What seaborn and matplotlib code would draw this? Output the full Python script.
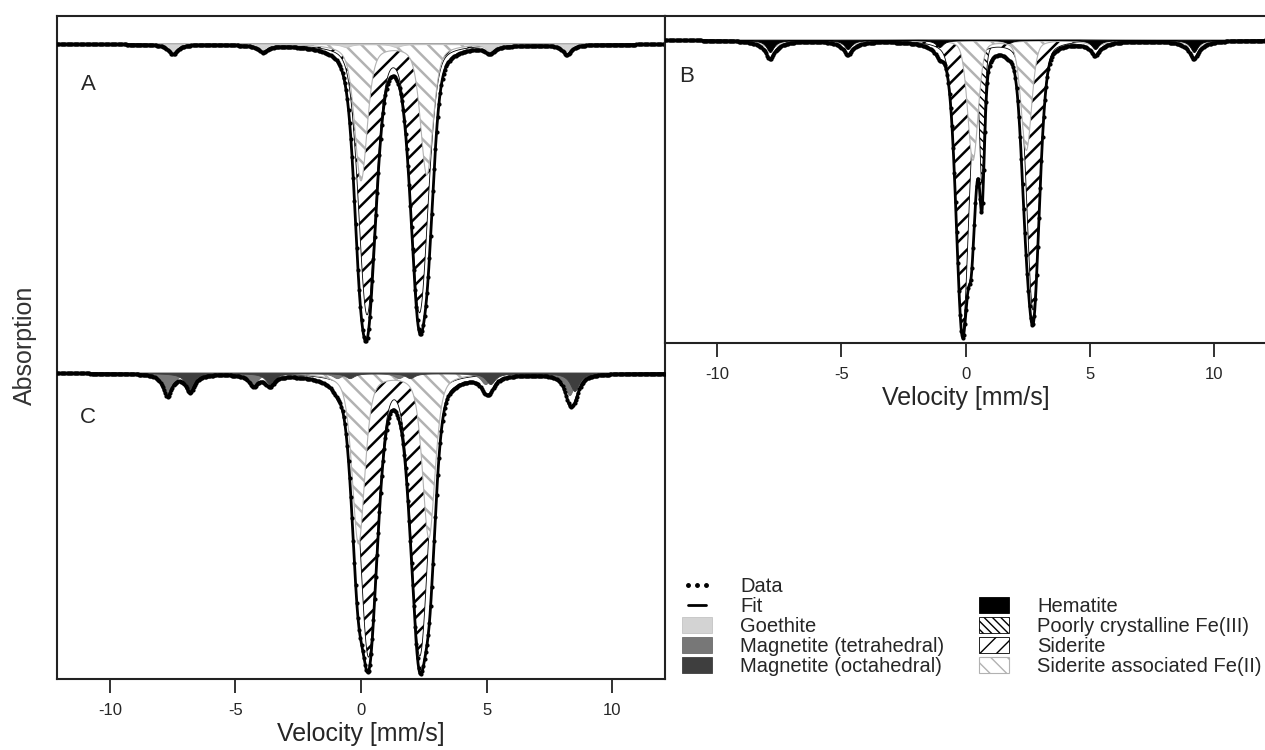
import numpy as np
import matplotlib
matplotlib.use("Agg")
import matplotlib.pyplot as plt
import seaborn as sns
from matplotlib.patches import Patch
from matplotlib.lines import Line2D

# Mossbauer sub-spectra: line positions (mm/s),
# line depths (plot units, baseline = 0), half widths (mm/s) and
# Lorentzian share of the pseudo-Voigt line shape

# panel A
a_goe_pos = [-7.48, -3.9, -0.6, 1.4, 5.12, 8.2]
a_goe_depth = [10, 7, 3, 3, 7, 10]
a_sid_pos = [0.24, 2.33]
a_sid_depth = [268, 266]
a_ass_pos = [0.0, 2.62]
a_ass_depth = [136, 130]

# panel B
b_goe_pos = [-7.85, -4.7, -1.0, 1.7, 5.25, 9.2]
b_goe_depth = [7, 5, 2, 2, 5, 7]
b_hem_pos = [-7.87, -4.74, -1.05, 1.72, 5.22, 9.2]
b_hem_depth = [12, 9, 7, 3, 9, 12]
b_fe3_pos = [0.22, 0.66]
b_fe3_depth = [80, 140]
b_sid_pos = [-0.12, 2.72]
b_sid_depth = [290, 269]
b_ass_pos = [0.3, 2.45]
b_ass_depth = [120, 110]

# panel C
c_tet_pos = [-7.7, -4.28, -0.95, 1.5, 4.95, 8.3]
c_tet_depth = [22, 11, 5, 5, 11, 22]
c_oct_pos = [-6.8, -3.63, -0.45, 1.95, 5.15, 8.5]
c_oct_depth = [18, 11, 5, 5, 11, 18]
c_sid_pos = [0.30, 2.34]
c_sid_depth = [281, 280]
c_ass_pos = [-0.1, 2.7]
c_ass_depth = [170, 164]

sat = 380          # saturation scale of the transmission fit
c_offset = -329
vel_ticks = [-10, -5, 0, 5, 10]
vmin, vmax = -12.1, 12.1

v = np.linspace(vmin, vmax, 2421)
v_ch = np.linspace(vmin, vmax, 512)


def profile(x, pos, depth, hw, eta):
    out = np.zeros_like(x)
    for p, d in zip(pos, depth):
        u = (x - p) / hw
        out += d * (eta / (1 + u ** 2) + (1 - eta) * np.exp(-np.log(2) * u ** 2))
    return out


styles = {
    'goe': dict(facecolor='#d3d3d3', edgecolor='#c4c4c4', linewidth=0.6),
    'tet': dict(facecolor='#777777', edgecolor='#6a6a6a', linewidth=0.6),
    'oct': dict(facecolor='#3e3e3e', edgecolor='#3e3e3e', linewidth=0.6),
    'hem': dict(facecolor='black', edgecolor='black', linewidth=0.6),
    'fe3': dict(facecolor='white', edgecolor='black', hatch='\\\\\\\\', linewidth=0.6),
    'sid': dict(facecolor='white', edgecolor='black', hatch='//', linewidth=0.6),
    'ass': dict(facecolor='white', edgecolor='#b2b2b2', hatch='\\\\', linewidth=0.8),
}
hatch_lw = {'fe3': 1.0, 'sid': 1.8, 'ass': 1.8}

sns.set_style("white")
plt.rcParams['font.family'] = ['Liberation Sans', 'DejaVu Sans']

fig = plt.figure(figsize=(12.65, 7.5), dpi=100)
ax_l = fig.add_axes([57 / 1265, 1 - 679 / 750, 608 / 1265, 663 / 750])
ax_b = fig.add_axes([665 / 1265, 1 - 343 / 750, 601 / 1265, 327 / 750])


def draw_spectrum(ax, base, comps):
    # hatched sub-spectra first, solid ones on top, then fit and data
    trans = np.ones_like(v)
    trans_ch = np.ones_like(v_ch)
    order = ['fe3', 'sid', 'ass', 'goe', 'tet', 'oct', 'hem']
    for key in order:
        if key not in comps:
            continue
        prof = profile(v, *comps[key])
        trans *= 1 - prof / sat
        trans_ch *= 1 - profile(v_ch, *comps[key]) / sat
        with plt.rc_context({'hatch.linewidth': hatch_lw.get(key, 1.0)}):
            ax.fill_between(v, base, base - prof, zorder=2, **styles[key])
    fit = sat * (1 - trans)
    fit_ch = sat * (1 - trans_ch)
    sns.lineplot(x=v, y=base - fit, ax=ax, color='black', linewidth=2, zorder=4)
    sns.scatterplot(x=v_ch, y=base - fit_ch, ax=ax, color='black', s=9,
                    linewidth=0, zorder=5)


draw_spectrum(ax_l, 0, {
    'goe': (a_goe_pos, a_goe_depth, 0.22, 1.0),
    'sid': (a_sid_pos, a_sid_depth, 0.4, 0.3),
    'ass': (a_ass_pos, a_ass_depth, 0.3, 0.5),
})
draw_spectrum(ax_l, c_offset, {
    'tet': (c_tet_pos, c_tet_depth, 0.22, 1.0),
    'oct': (c_oct_pos, c_oct_depth, 0.22, 1.0),
    'sid': (c_sid_pos, c_sid_depth, 0.4, 0.3),
    'ass': (c_ass_pos, c_ass_depth, 0.3, 0.5),
})
draw_spectrum(ax_b, 0, {
    'goe': (b_goe_pos, b_goe_depth, 0.5, 1.0),
    'hem': (b_hem_pos, b_hem_depth, 0.18, 1.0),
    'fe3': (b_fe3_pos, b_fe3_depth, 0.12, 0.5),
    'sid': (b_sid_pos, b_sid_depth, 0.3, 0.3),
    'ass': (b_ass_pos, b_ass_depth, 0.25, 0.3),
})

ax_l.set_ylim(-635, 28)
ax_b.set_ylim(-303, 24)
for ax in (ax_l, ax_b):
    ax.set_xlim(vmin, vmax)
    ax.set_xticks(vel_ticks)
    ax.set_xticklabels([str(t) for t in vel_ticks])
    ax.set_yticks([])
    ax.set_ylabel('')
    ax.tick_params(axis='x', direction='out', length=10, width=1.3,
                   labelsize=12, pad=7, bottom=True, color='#222222')
    ax.set_xlabel('Velocity [mm/s]', fontsize=18, labelpad=3)
    for s in ax.spines.values():
        s.set_color('#222222')
        s.set_linewidth(1.5)
ax_b.spines['right'].set_visible(False)

fig.text(25 / 1265, 1 - 345 / 750, 'Absorption', rotation=90, ha='center',
         va='center', fontsize=18, color='#333333')
fig.text(88 / 1265, 1 - 84 / 750, 'A', fontsize=16, ha='center', va='center')
fig.text(687 / 1265, 1 - 77 / 750, 'B', fontsize=16, ha='center', va='center')
fig.text(88 / 1265, 1 - 417 / 750, 'C', fontsize=16, ha='center', va='center')

handles = [
    Line2D([], [], ls='none', marker='o', ms=2.5, color='black'),
    Line2D([], [], color='black', lw=2),
    Patch(**styles['goe']),
    Patch(**styles['tet']),
    Patch(**styles['oct']),
    Patch(facecolor='none', edgecolor='none'),
    Patch(**styles['hem']),
    Patch(**styles['fe3']),
    Patch(**styles['sid']),
    Patch(**styles['ass']),
]
labels = ['Data', 'Fit', 'Goethite', 'Magnetite (tetrahedral)',
          'Magnetite (octahedral)', '', 'Hematite',
          'Poorly crystalline Fe(III)', 'Siderite', 'Siderite associated Fe(II)']
fig.legend(handles, labels, loc='upper left',
           bbox_to_anchor=(682 / 1265, 1 - 577 / 750), ncol=2, frameon=False,
           fontsize=14.5, handlelength=1.5, handleheight=0.8, labelspacing=0.05,
           columnspacing=1.7, handletextpad=1.4, numpoints=3,
           borderaxespad=0, borderpad=0)

fig.savefig('out.png', dpi=100)
